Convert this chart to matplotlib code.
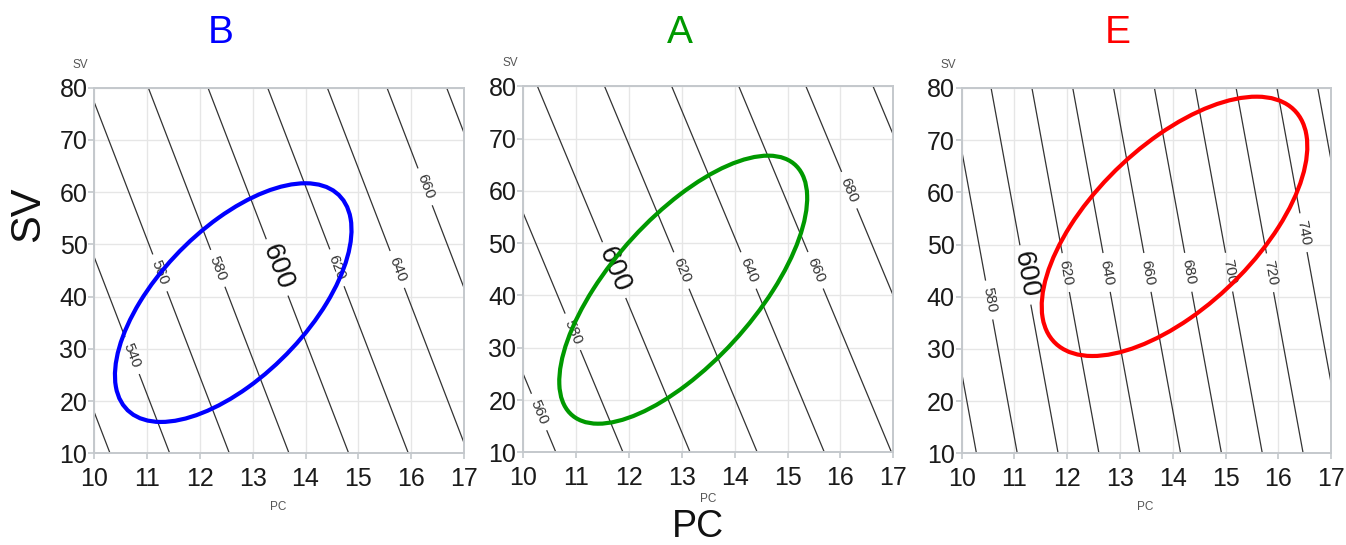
import numpy as np
import matplotlib
matplotlib.use("Agg")
import matplotlib.pyplot as plt
from matplotlib.patches import Ellipse

plt.rcParams['font.family'] = ['Liberation Sans', 'DejaVu Sans']

# ---- data -------------------------------------------------------------
panel_names = ["B", "A", "E"]
panel_colors = ["#0000ff", "#009900", "#ff0000"]

# linear response surface for each panel: z = intercept + pc_coef*PC + sv_coef*SV
intercepts = [331.0, 386.3, 289.7]
pc_coefs = [17.70, 15.75, 25.84]
sv_coefs = [0.674, 0.650, 0.469]

contour_levels = list(range(500, 800, 20))
highlight_level = 600

# operating-window ellipses: centre, half extents and correlation
ell_pc_mean = [12.63, 13.025, 14.033]
ell_sv_mean = [38.85, 41.10, 53.485]
ell_pc_half = [2.24, 2.345, 2.517]
ell_sv_half = [22.85, 25.63, 24.845]
ell_corr = [0.61, 0.685, 0.617]

pc_ticks = [10, 11, 12, 13, 14, 15, 16, 17]
sv_ticks = [10, 20, 30, 40, 50, 60, 70, 80]

# ---- layout -----------------------------------------------------------
W, H = 1346, 545
axes_rects = [(0.0701, 0.1683, 0.2746, 0.6708),
              (0.3888, 0.1701, 0.2749, 0.6716),
              (0.7145, 0.1683, 0.2744, 0.6703)]
title_x = [221, 680, 1118]
small_sv_xy = [(80, 65), (510, 63), (948, 65)]
small_pc_xy = [(278, 507), (708, 499), (1145, 507)]

label_spots = [
    [(10.74, 28.8), (11.23, 44.5), (12.36, 45.5), (14.59, 45.5),
     (15.71, 45.1), (16.26, 61.0)],
    [(10.32, 17.8), (10.95, 33.1), (13.02, 44.9), (14.29, 44.9),
     (15.55, 44.9), (16.18, 60.2)],
    [(10.485, 39.3), (11.96, 44.6), (12.72, 44.6), (13.49, 44.6),
     (14.25, 44.6), (15.01, 44.6), (15.85, 44.6), (16.44, 52.2)],
]
highlight_spots = [(13.44, 45.5), (11.73, 44.9), (11.22, 44.2)]

fig = plt.figure(figsize=(W / 100, H / 100), dpi=100)

pc = np.linspace(pc_ticks[0], pc_ticks[-1], 300)
sv = np.linspace(sv_ticks[0], sv_ticks[-1], 300)
PC, SV = np.meshgrid(pc, sv)

spine_col = "#c4c8cc"
line_col = "#333333"

for i, name in enumerate(panel_names):
    ax = fig.add_axes(axes_rects[i])
    Z = intercepts[i] + pc_coefs[i] * PC + sv_coefs[i] * SV

    other = [lv for lv in contour_levels if lv != highlight_level]
    cs = ax.contour(PC, SV, Z, levels=other, colors=line_col,
                    linewidths=0.9, zorder=2)
    cs_hi = ax.contour(PC, SV, Z, levels=[highlight_level], colors=line_col,
                       linewidths=0.9, zorder=2)
    ax.clabel(cs, fmt='%d', fontsize=11, colors='#333333', inline=True,
              inline_spacing=7, manual=label_spots[i])
    ax.clabel(cs_hi, fmt='%d', fontsize=20, colors='#111111', inline=True,
              inline_spacing=7, manual=[highlight_spots[i]])

    # ellipse from covariance of the window
    sx, sy, r = ell_pc_half[i], ell_sv_half[i], ell_corr[i]
    cov = np.array([[sx * sx, r * sx * sy], [r * sx * sy, sy * sy]])
    vals, vecs = np.linalg.eigh(cov)
    ang = np.degrees(np.arctan2(vecs[1, 1], vecs[0, 1]))
    ax.add_patch(Ellipse((ell_pc_mean[i], ell_sv_mean[i]),
                         2 * np.sqrt(vals[1]), 2 * np.sqrt(vals[0]),
                         angle=ang, fill=False, edgecolor=panel_colors[i],
                         linewidth=3.0, zorder=4))

    ax.set_xlim(pc_ticks[0], pc_ticks[-1])
    ax.set_ylim(sv_ticks[0], sv_ticks[-1])
    ax.set_xticks(pc_ticks)
    ax.set_yticks(sv_ticks)
    ax.grid(True, color="#e6e6e6", linewidth=1.0, zorder=0)
    ax.set_axisbelow(True)
    for s in ax.spines.values():
        s.set_color(spine_col)
        s.set_linewidth(1.4)
    ax.tick_params(axis='x', length=4, width=1.2, color=spine_col,
                   labelsize=18, labelcolor="#1a1a1a", pad=6)
    ax.tick_params(axis='y', length=4, width=1.2, color=spine_col,
                   labelsize=18, labelcolor="#1a1a1a", pad=1)

    fig.text(title_x[i] / W, 1 - 33 / H, name, color=panel_colors[i],
             fontsize=28, ha='center', va='center')
    fig.text(small_sv_xy[i][0] / W, 1 - small_sv_xy[i][1] / H, "SV",
             color="#555555", fontsize=8.5, ha='center', va='center')
    fig.text(small_pc_xy[i][0] / W, 1 - small_pc_xy[i][1] / H, "PC",
             color="#555555", fontsize=8.5, ha='center', va='center')

fig.text(28 / W, 1 - 214 / H, "SV", fontsize=30, rotation=90,
         ha='center', va='center', color="#111111")
fig.text(698 / W, 1 - 545 / H, "PC", fontsize=27,
         ha='center', va='bottom', color="#111111")

fig.savefig("out.png", dpi=100)
